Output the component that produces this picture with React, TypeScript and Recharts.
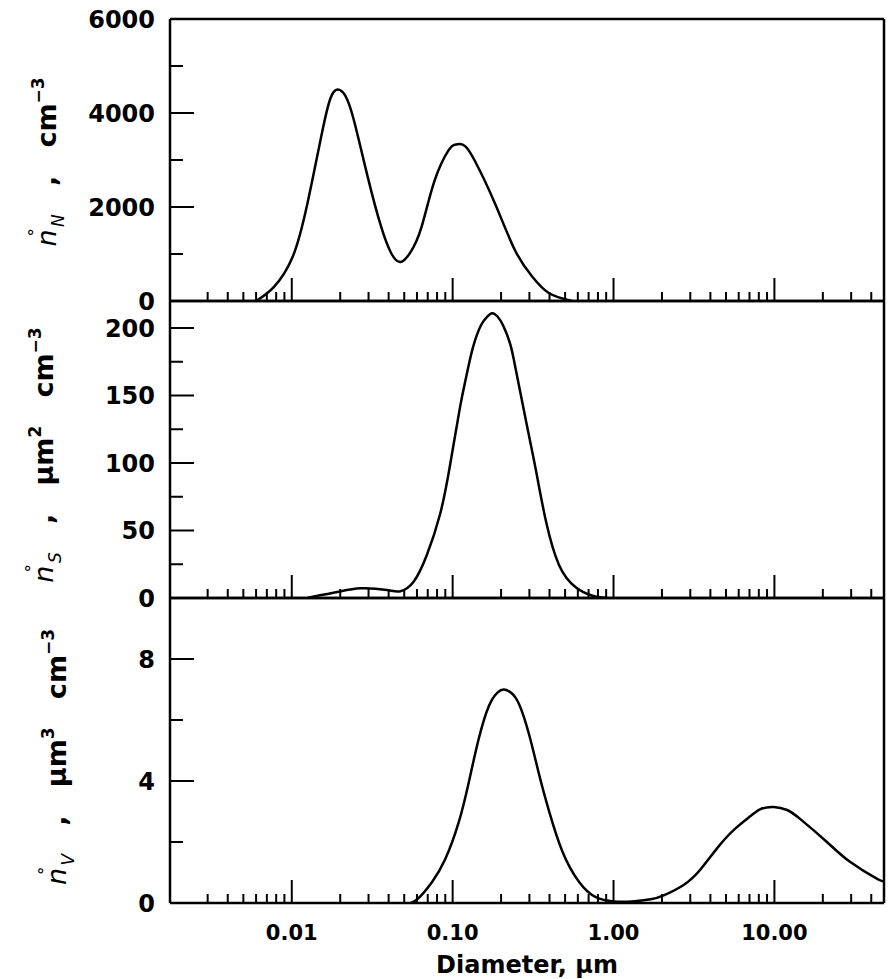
import React from 'react';
import { LineChart, Line, XAxis, YAxis } from 'recharts';

// diameter axis (um), log scale
const X_MIN = 0.00175;
const X_MAX = 48;
const X_TICKS = [
    0.003, 0.004, 0.005, 0.006, 0.007, 0.008, 0.009, 0.01,
    0.02, 0.03, 0.04, 0.05, 0.06, 0.07, 0.08, 0.09, 0.1,
    0.2, 0.3, 0.4, 0.5, 0.6, 0.7, 0.8, 0.9, 1,
    2, 3, 4, 5, 6, 7, 8, 9, 10,
    20, 30, 40,
];
const X_MAJOR = [0.01, 0.1, 1, 10];
const X_MAJOR_LABELS = ['0.01', '0.10', '1.00', '10.00'];

// number distribution, cm^-3
const N_DIAM = [0.006, 0.0077, 0.0101, 0.0125, 0.0152, 0.0167, 0.0178, 0.0193, 0.0215, 0.0244, 0.0297, 0.036, 0.0416, 0.0475, 0.055, 0.064, 0.0772, 0.094, 0.103, 0.111, 0.12, 0.137, 0.183, 0.244, 0.312, 0.396, 0.55];
const N_VALUES = [0, 290, 930, 2070, 3480, 4110, 4390, 4500, 4370, 3830, 2630, 1570, 1010, 830, 1050, 1570, 2560, 3200, 3325, 3340, 3290, 2990, 2080, 1080, 520, 170, 0];
const N_MAJOR = [0, 2000, 4000, 6000];
const N_MINOR = [1000, 3000, 5000];

// surface distribution, um^2 cm^-3
const S_DIAM = [0.0125, 0.0145, 0.0192, 0.0268, 0.039, 0.0473, 0.0572, 0.0692, 0.0835, 0.0962, 0.111, 0.122, 0.134, 0.15, 0.163, 0.176, 0.19, 0.2056, 0.228, 0.248, 0.286, 0.33, 0.38, 0.459, 0.582, 0.74, 0.9];
const S_VALUES = [0, 1.7, 4.4, 7.2, 5.9, 5.0, 12, 32, 62, 98, 141, 165, 186, 202, 208, 211, 208.5, 202, 188, 168, 131, 94, 57, 24.3, 8, 1.7, 0];
const S_MAJOR = [0, 50, 100, 150, 200];
const S_MINOR = [25, 75, 125, 175];

// volume distribution, um^3 cm^-3
const V_DIAM = [0.055, 0.0614, 0.0743, 0.09, 0.109, 0.126, 0.145, 0.168, 0.19, 0.208, 0.23, 0.258, 0.298, 0.344, 0.397, 0.481, 0.611, 0.776, 1.0, 1.3, 1.7, 2.05, 2.74, 3.47, 4.41, 5.6, 7.1, 8.2, 9.9, 12.0, 14.5, 21.2, 29.5, 43.3, 48];
const V_VALUES = [0, 0.16, 0.68, 1.44, 2.64, 3.96, 5.37, 6.46, 6.9, 7.0, 6.9, 6.53, 5.54, 4.23, 3.02, 1.69, 0.69, 0.19, 0.05, 0.05, 0.12, 0.25, 0.6, 1.1, 1.8, 2.4, 2.85, 3.08, 3.15, 3.05, 2.75, 2.0, 1.35, 0.8, 0.72];
const V_MAJOR = [0, 4, 8];
const V_MINOR = [2, 6];

const FONT = '"DejaVu Sans", sans-serif';
const W = 888;
const H = 979;

const XTick = ({ x, y, payload, showLabels }: any) => {
    const v = payload.value;
    const idx = X_MAJOR.findIndex(m => Math.abs(m - v) / m < 1e-6);
    const major = idx >= 0;
    return (
        <g>
            <line x1={x} x2={x} y1={y} y2={y - (major ? 23 : 9)} stroke="#000" strokeWidth={2} />
            {showLabels && major && (
                <text x={x} y={y + 37} textAnchor="middle" fontFamily={FONT} fontWeight="bold" fontSize={21} fill="#000">
                    {X_MAJOR_LABELS[idx]}
                </text>
            )}
        </g>
    );
};

const YTick = ({ x, y, payload, majors }: any) => {
    const v = payload.value;
    const major = majors.includes(v);
    return (
        <g>
            <line x1={x} x2={x + (major ? 24 : 13)} y1={y} y2={y} stroke="#000" strokeWidth={2} />
            {major && (
                <text x={x - 15} y={y} dy="0.36em" textAnchor="end" fontFamily={FONT} fontWeight="bold" fontSize={24} fill="#000">
                    {v}
                </text>
            )}
        </g>
    );
};

const Title = ({ cx, cy, sub, power }: any) => (
    <text
        x={cx}
        y={cy}
        transform={`rotate(-90 ${cx} ${cy})`}
        textAnchor="middle"
        fontFamily={FONT}
        fontWeight="bold"
        fontSize={27}
        fill="#000"
        style={{ whiteSpace: 'pre' }}
    >
        <tspan fontStyle="italic" fontWeight="normal">n</tspan>
        <tspan dx={-7} dy={-15} fontSize={17} fontWeight="normal">°</tspan>
        <tspan dx={1} dy={23} fontSize={17} fontStyle="italic" fontWeight="normal">{sub}</tspan>
        <tspan dy={-8}>{'   ,   '}</tspan>
        {power && <tspan>μm</tspan>}
        {power && <tspan dy={-12} fontSize={17}>{power}</tspan>}
        <tspan dy={power ? 12 : 0}>{power ? '   cm' : 'cm'}</tspan>
        <tspan dy={-12} fontSize={17}>−3</tspan>
    </text>
);

interface PanelProps {
    diam: number[];
    values: number[];
    yMax: number;
    majors: number[];
    minors: number[];
    plotTop: number;
    plotBottom: number;
    showXLabels: boolean;
    title: { cx: number; cy: number; sub: string; power?: string };
}

const Panel: React.FC<PanelProps> = ({ diam, values, yMax, majors, minors, plotTop, plotBottom, showXLabels, title }) => {
    const rows = diam.map((d, i) => ({ d, v: values[i] }));
    const yTicks = [...majors, ...minors].sort((a, b) => a - b);
    const frame = { stroke: '#000', strokeWidth: 2.5 };
    return (
        <div style={{ position: 'absolute', left: 0, top: 0 }}>
            <LineChart width={W} height={H} data={rows} margin={{ top: plotTop - 1, right: 3, bottom: H - plotBottom - 60, left: 0 }}>
                <XAxis
                    dataKey="d"
                    type="number"
                    scale="log"
                    domain={[X_MIN, X_MAX]}
                    allowDataOverflow
                    ticks={X_TICKS}
                    interval={0}
                    height={60}
                    tickSize={0}
                    tickMargin={0}
                    tickLine={false}
                    axisLine={frame}
                    tick={(p: any) => <XTick {...p} showLabels={showXLabels} />}
                    label={showXLabels ? () => (
                        <text x={527} y={973} textAnchor="middle" fontFamily={FONT} fontWeight="bold" fontSize={24} fill="#000">
                            Diameter,  μm
                        </text>
                    ) : undefined}
                />
                <XAxis xAxisId="top" orientation="top" type="number" scale="log" domain={[X_MIN, X_MAX]} allowDataOverflow height={1} tick={false} tickLine={false} axisLine={frame} />
                <YAxis
                    type="number"
                    domain={[0, yMax]}
                    allowDataOverflow
                    ticks={yTicks}
                    interval={0}
                    width={170}
                    tickSize={0}
                    tickMargin={0}
                    tickLine={false}
                    axisLine={frame}
                    tick={(p: any) => <YTick {...p} majors={majors} />}
                    label={() => <Title {...title} />}
                />
                <YAxis yAxisId="r" orientation="right" type="number" domain={[0, 1]} width={1} tick={false} tickLine={false} axisLine={frame} />
                <Line type="natural" dataKey="v" stroke="#000" strokeWidth={2.5} dot={false} isAnimationActive={false} />
            </LineChart>
        </div>
    );
};

export default function App() {
    return (
        <div style={{ position: 'absolute', left: 0, top: 0, width: W, height: H, background: '#fff' }}>
            <Panel diam={N_DIAM} values={N_VALUES} yMax={6000} majors={N_MAJOR} minors={N_MINOR}
                plotTop={19} plotBottom={301} showXLabels={false}
                title={{ cx: 56, cy: 162, sub: 'N' }} />
            <Panel diam={S_DIAM} values={S_VALUES} yMax={220} majors={S_MAJOR} minors={S_MINOR}
                plotTop={301} plotBottom={598} showXLabels={false}
                title={{ cx: 53, cy: 455, sub: 'S', power: '2' }} />
            <Panel diam={V_DIAM} values={V_VALUES} yMax={10} majors={V_MAJOR} minors={V_MINOR}
                plotTop={598} plotBottom={903} showXLabels
                title={{ cx: 66, cy: 757, sub: 'V', power: '3' }} />
        </div>
    );
}
